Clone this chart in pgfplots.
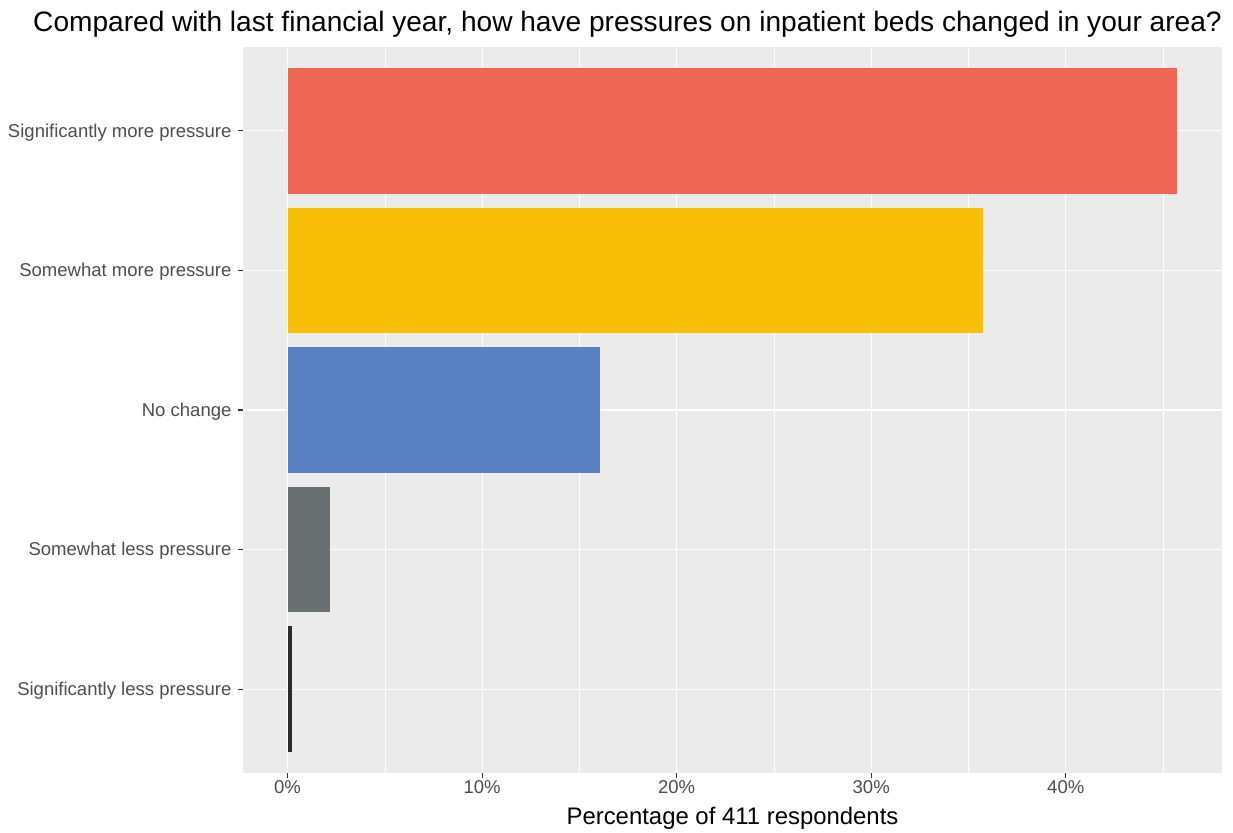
\documentclass[border=0pt]{standalone}
\usepackage{pgfplots}
\pgfplotsset{compat=1.18}
\usepackage{fontspec}
\setmainfont{Liberation Sans}
\definecolor{panelbg}{HTML}{EBEBEB}
\definecolor{cRed}{HTML}{EE6656}
\definecolor{cYel}{HTML}{F8BF07}
\definecolor{cBlue}{HTML}{5A82C2}
\definecolor{cGrey}{HTML}{697071}
\definecolor{cDark}{HTML}{2B2B2B}
\definecolor{tickgrey}{HTML}{4D4D4D}
\definecolor{tickline}{HTML}{333333}
\begin{document}
\begin{tikzpicture}[x=1bp,y=1bp]
\path[use as bounding box] (0,0) rectangle (1233,833);
\node[anchor=base, inner sep=0pt] at (732.5,8) {\fontsize{24}{26}\selectfont Percentage of 411 respondents};
\node[anchor=base, inner sep=0pt] at (627.5,801) {\fontsize{28.2}{30}\selectfont Compared with last financial year, how have pressures on inpatient beds changed in your area?};
\begin{axis}[
  at={(243bp,60bp)}, anchor=south west,
  width=979bp, height=726bp, scale only axis,
  xbar, bar width=0.9, bar shift=0pt,
  xmin=-2.287, xmax=48.03,
  ymin=-0.6, ymax=4.6,
  axis background/.style={fill=panelbg},
  axis line style={draw=none},
  xtick={0,10,20,30,40},
  xticklabels={0\%,10\%,20\%,30\%,40\%},
  minor xtick={5,15,25,35,45},
  ytick={0,1,2,3,4},
  yticklabels={Significantly less pressure,Somewhat less pressure,No change,Somewhat more pressure,Significantly more pressure},
  xmajorgrids, ymajorgrids, xminorgrids,
  major grid style={white, line width=1.1bp},
  minor grid style={white, line width=0.55bp},
  tick style={tickline, line width=1.1bp},
  major tick length=5bp,
  minor tick length=0pt,
  tick align=outside,
  xtick pos=bottom, ytick pos=left,
  ticklabel style={font=\fontsize{18.6}{20}\selectfont, text=tickgrey},
  xticklabel style={yshift=1bp},
  yticklabel style={xshift=-3bp, yshift=-1.5bp},
  clip=false,
]
\addplot[fill=cRed, draw=none] coordinates {(45.74,4)};
\addplot[fill=cYel, draw=none] coordinates {(35.77,3)};
\addplot[fill=cBlue, draw=none] coordinates {(16.06,2)};
\addplot[fill=cGrey, draw=none] coordinates {(2.19,1)};
\addplot[fill=cDark, draw=none] coordinates {(0.243,0)};
\end{axis}
\end{tikzpicture}
\end{document}
